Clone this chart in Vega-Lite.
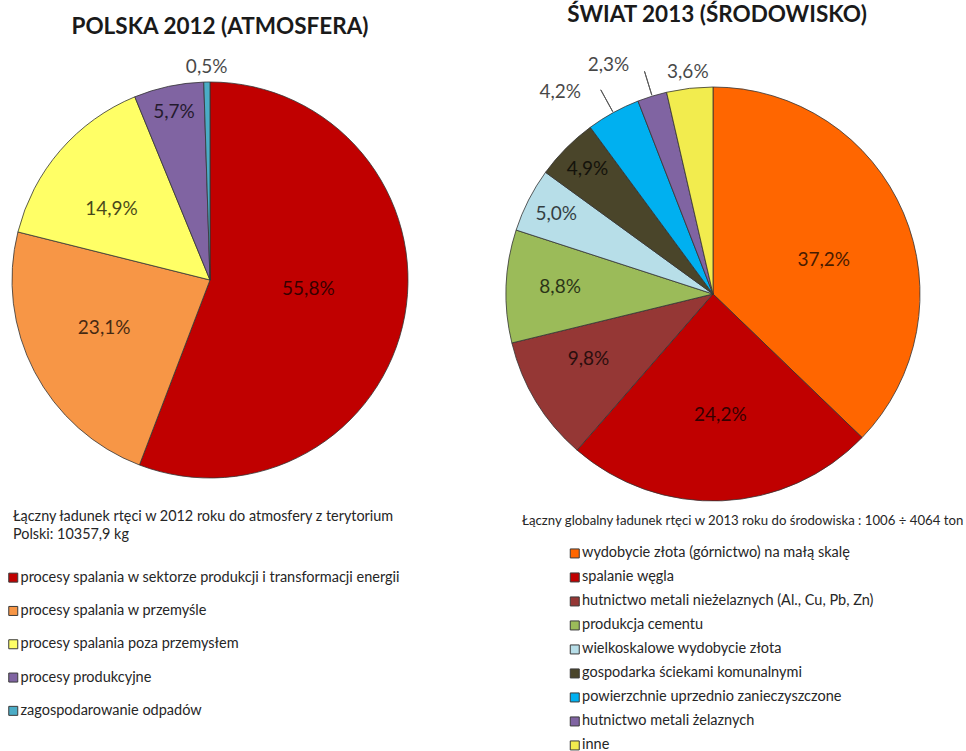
{
  "$schema": "https://vega.github.io/schema/vega-lite/v6.json",
  "background": "white",
  "padding": {"left": 0, "top": 4, "right": 0, "bottom": 0},
  "spacing": 86,
  "bounds": "flush",
  "config": {
    "view": {"stroke": null},
    "font": "Lato",
    "title": {"font": "Lato", "fontSize": 22.5, "fontWeight": "bold", "color": "#1a1a1a", "anchor": "middle", "frame": "group"},
    "text": {"font": "Lato", "fontSize": 19, "fill": "#000000", "opacity": 0.72},
    "legend": {
      "titleFont": "Lato", "labelFont": "Lato",
      "titleFontWeight": "normal", "titleColor": "#262626",
      "titleLineHeight": 18, "titleLimit": 700, "titleBaseline": "top",
      "labelFontSize": 14.5, "labelColor": "#262626", "labelLimit": 700,
      "symbolType": "square", "symbolSize": 81, "symbolStrokeColor": "#3a3a3a", "symbolStrokeWidth": 1, "symbolOpacity": 1,
      "labelOffset": 0
    }
  },
  "resolve": {"scale": {"color": "independent", "theta": "independent"}, "legend": {"color": "independent"}},
  "datasets": {
    "pl": [
      {"cat": "procesy spalania w sektorze produkcji i transformacji energii", "v": 55.8, "lab": "55,8%", "o": 1},
      {"cat": "procesy spalania w przemyśle", "v": 23.1, "lab": "23,1%", "o": 2},
      {"cat": "procesy spalania poza przemysłem", "v": 14.9, "lab": "14,9%", "o": 3},
      {"cat": "procesy produkcyjne", "v": 5.7, "lab": "5,7%", "o": 4},
      {"cat": "zagospodarowanie odpadów", "v": 0.5, "lab": "0,5%", "o": 5}
    ],
    "sw": [
      {"cat": "wydobycie złota (górnictwo) na małą skalę", "v": 37.2, "lab": "37,2%", "o": 1},
      {"cat": "spalanie węgla", "v": 24.2, "lab": "24,2%", "o": 2},
      {"cat": "hutnictwo metali nieżelaznych (Al., Cu, Pb, Zn)", "v": 9.8, "lab": "9,8%", "o": 3},
      {"cat": "produkcja cementu", "v": 8.8, "lab": "8,8%", "o": 4},
      {"cat": "wielkoskalowe wydobycie złota", "v": 5.0, "lab": "5,0%", "o": 5},
      {"cat": "gospodarka ściekami komunalnymi", "v": 4.9, "lab": "4,9%", "o": 6},
      {"cat": "powierzchnie uprzednio zanieczyszczone", "v": 4.2, "lab": "4,2%", "o": 7},
      {"cat": "hutnictwo metali żelaznych", "v": 2.3, "lab": "2,3%", "o": 8},
      {"cat": "inne", "v": 3.6, "lab": "3,6%", "o": 9}
    ]
  },
  "hconcat": [
    {
      "width": 420,
      "height": 396,
      "title": {"text": "POLSKA 2012 (ATMOSFERA)", "dx": 10, "offset": 20},
      "data": {"name": "pl"},
      "encoding": {
        "theta": {"field": "v", "type": "quantitative", "stack": true},
        "order": {"field": "o", "type": "quantitative"}
      },
      "layer": [
        {
          "mark": {"type": "arc", "radius": 198, "stroke": "#333333", "strokeWidth": 0.8},
          "encoding": {
            "color": {
              "field": "cat", "type": "nominal",
              "scale": {
                "domain": ["procesy spalania w sektorze produkcji i transformacji energii", "procesy spalania w przemyśle", "procesy spalania poza przemysłem", "procesy produkcyjne", "zagospodarowanie odpadów"],
                "range": ["#C00000", "#F79646", "#FFFF66", "#8064A2", "#4BACC6"]
              },
              "legend": {
                "orient": "none", "legendX": 13, "legendY": 428,
                "title": ["Łączny ładunek rtęci w 2012 roku do atmosfery z terytorium", "Polski: 10357,9 kg"],
                "titleFontSize": 14.4,
                "titlePadding": 28, "rowPadding": 18.3, "symbolOffset": -7
              }
            }
          }
        },
        {
          "mark": {"type": "text", "radius": 100, "dy": -9},
          "encoding": {"detail": {"field": "cat"}, "text": {"condition": {"test": "datum.o == 1", "field": "lab"}, "value": ""}}
        },
        {
          "mark": {"type": "text", "radius": 116, "dx": -3, "dy": -6},
          "encoding": {"detail": {"field": "cat"}, "text": {"condition": {"test": "datum.o == 2", "field": "lab"}, "value": ""}}
        },
        {
          "mark": {"type": "text", "radius": 121, "dx": -7, "dy": 8},
          "encoding": {"detail": {"field": "cat"}, "text": {"condition": {"test": "datum.o == 3", "field": "lab"}, "value": ""}}
        },
        {
          "mark": {"type": "text", "radius": 172},
          "encoding": {"detail": {"field": "cat"}, "text": {"condition": {"test": "datum.o == 4", "field": "lab"}, "value": ""}}
        },
        {
          "mark": {"type": "text", "radius": 213},
          "encoding": {"detail": {"field": "cat"}, "text": {"condition": {"test": "datum.o == 5", "field": "lab"}, "value": ""}}
        }
      ]
    },
    {
      "width": 414,
      "height": 424,
      "title": {"text": "ŚWIAT 2013 (ŚRODOWISKO)", "dx": 4, "offset": 20},
      "data": {"name": "sw"},
      "encoding": {
        "theta": {"field": "v", "type": "quantitative", "stack": true},
        "order": {"field": "o", "type": "quantitative"}
      },
      "layer": [
        {
          "mark": {"type": "arc", "radius": 207, "stroke": "#333333", "strokeWidth": 0.8},
          "encoding": {
            "color": {
              "field": "cat", "type": "nominal",
              "scale": {
                "domain": ["wydobycie złota (górnictwo) na małą skalę", "spalanie węgla", "hutnictwo metali nieżelaznych (Al., Cu, Pb, Zn)", "produkcja cementu", "wielkoskalowe wydobycie złota", "gospodarka ściekami komunalnymi", "powierzchnie uprzednio zanieczyszczone", "hutnictwo metali żelaznych", "inne"],
                "range": ["#FF6600", "#C00000", "#953735", "#9BBB59", "#B7DEE8", "#4A452A", "#00B0F0", "#8064A2", "#F2EC4E"]
              },
              "legend": {
                "orient": "none", "legendX": 16, "legendY": 433,
                "title": "Łączny globalny ładunek rtęci w 2013 roku do środowiska : 1006 ÷ 4064 ton",
                "titleFontSize": 13.2,
                "titlePadding": 18, "rowPadding": 9, "symbolOffset": 45.5
              }
            }
          }
        },
        {
          "transform": [
            {"window": [{"op": "sum", "field": "v", "as": "cum"}], "sort": [{"field": "o"}]},
            {"calculate": "datum.cum - datum.v / 2", "as": "mid"},
            {"filter": "datum.o == 7 || datum.o == 8"}
          ],
          "mark": {"type": "arc", "radius": 233, "radius2": 208, "filled": false, "stroke": "#595959", "strokeWidth": 1},
          "encoding": {
            "theta": {"field": "mid", "type": "quantitative", "stack": null},
            "theta2": {"field": "mid"}
          }
        },
        {
          "mark": {"type": "text", "radius": 116, "dx": 4, "dy": 11},
          "encoding": {"detail": {"field": "cat"}, "text": {"condition": {"test": "datum.o == 1", "field": "lab"}, "value": ""}}
        },
        {
          "mark": {"type": "text", "radius": 121, "dx": 2},
          "encoding": {"detail": {"field": "cat"}, "text": {"condition": {"test": "datum.o == 2", "field": "lab"}, "value": ""}}
        },
        {
          "mark": {"type": "text", "radius": 141, "dx": -4, "dy": -8},
          "encoding": {"detail": {"field": "cat"}, "text": {"condition": {"test": "datum.o == 3", "field": "lab"}, "value": ""}}
        },
        {
          "mark": {"type": "text", "radius": 153, "dy": -1},
          "encoding": {"detail": {"field": "cat"}, "text": {"condition": {"test": "datum.o == 4", "field": "lab"}, "value": ""}}
        },
        {
          "mark": {"type": "text", "radius": 176},
          "encoding": {"detail": {"field": "cat"}, "text": {"condition": {"test": "datum.o == 5", "field": "lab"}, "value": ""}}
        },
        {
          "mark": {"type": "text", "radius": 177},
          "encoding": {"detail": {"field": "cat"}, "text": {"condition": {"test": "datum.o == 6", "field": "lab"}, "value": ""}}
        },
        {
          "mark": {"type": "text", "radius": 230, "dx": -42},
          "encoding": {"detail": {"field": "cat"}, "text": {"condition": {"test": "datum.o == 7", "field": "lab"}, "value": ""}}
        },
        {
          "mark": {"type": "text", "radius": 240, "dx": -34},
          "encoding": {"detail": {"field": "cat"}, "text": {"condition": {"test": "datum.o == 8", "field": "lab"}, "value": ""}}
        },
        {
          "mark": {"type": "text", "radius": 223},
          "encoding": {"detail": {"field": "cat"}, "text": {"condition": {"test": "datum.o == 9", "field": "lab"}, "value": ""}}
        }
      ]
    }
  ]
}
